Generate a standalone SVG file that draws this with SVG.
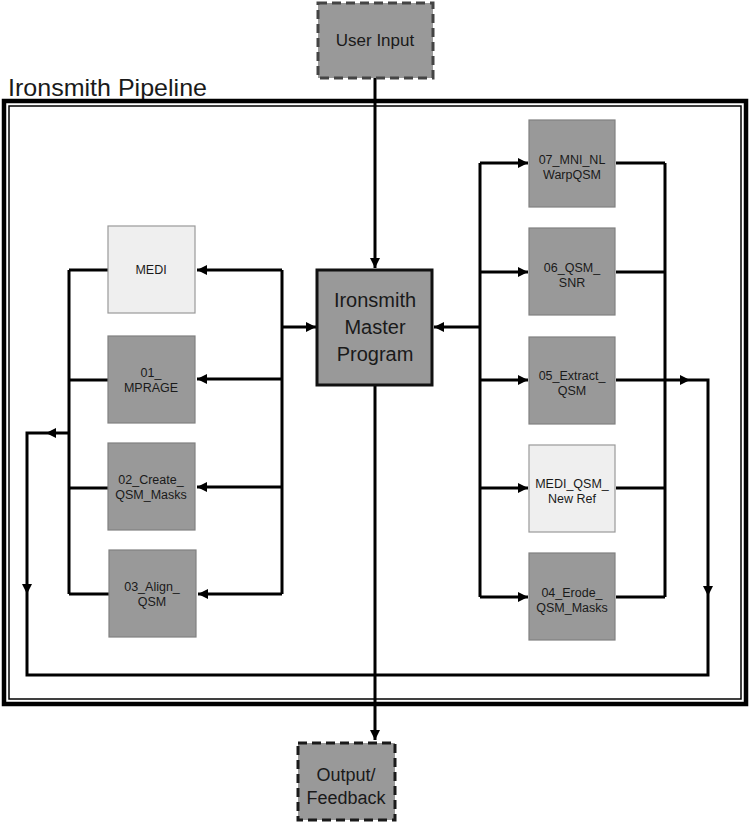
<svg xmlns="http://www.w3.org/2000/svg" width="750" height="825" viewBox="0 0 750 825">
<style>
.dark{fill:#999999;stroke:#808080;stroke-width:1.2}
.light{fill:#efefef;stroke:#999999;stroke-width:1.2}
.term{fill:#999999;stroke:#444444;stroke-width:3;stroke-dasharray:9 5}
.term2{fill:#999999;stroke:#1a1a1a;stroke-width:3;stroke-dasharray:9 5}
.master{fill:#999999;stroke:#111111;stroke-width:3}
.t{font-family:"Liberation Sans",Arial,sans-serif;fill:#1a1a1a;text-anchor:middle}
.s{font-size:12.5px}
.c{fill:none;stroke:#000;stroke-width:3}
.ah{fill:#000}
</style>
<defs>
<marker id="arr" markerUnits="userSpaceOnUse" markerWidth="11" markerHeight="11" refX="10" refY="5" orient="auto">
<path d="M0,0 L10,5 L0,10 z" fill="#000"/>
</marker>
</defs>
<rect width="750" height="825" fill="#fff"/>

<g id="frame">
<text class="t" x="8" y="96" style="text-anchor:start;font-size:24px" textLength="199" lengthAdjust="spacingAndGlyphs">Ironsmith Pipeline</text>
<rect x="4" y="101" width="742" height="603" fill="none" stroke="#000" stroke-width="4.5"/>
<rect x="9" y="106" width="732" height="593" fill="none" stroke="#000" stroke-width="1.5"/>
</g>

<g id="connectors">
<path class="c" d="M375,78 L375,268" marker-end="url(#arr)"/>
<path class="c" d="M375,386 L375,740" marker-end="url(#arr)"/>
<path class="c" d="M282,270 L282,594"/>
<path class="c" d="M282,270 L197,270" marker-end="url(#arr)"/>
<path class="c" d="M282,379 L197,379" marker-end="url(#arr)"/>
<path class="c" d="M282,487 L197,487" marker-end="url(#arr)"/>
<path class="c" d="M282,594 L198,594" marker-end="url(#arr)"/>
<path class="c" d="M282,327 L316,327" marker-end="url(#arr)"/>
<path class="c" d="M69,270 L69,594"/>
<path class="c" d="M69,270 L108,270"/>
<path class="c" d="M69,380 L108,380"/>
<path class="c" d="M69,488 L108,488"/>
<path class="c" d="M69,594 L109,594"/>
<path class="c" d="M480,163 L480,597"/>
<path class="c" d="M480,163 L528,163" marker-end="url(#arr)"/>
<path class="c" d="M480,272 L528,272" marker-end="url(#arr)"/>
<path class="c" d="M480,380 L528,380" marker-end="url(#arr)"/>
<path class="c" d="M480,488 L528,488" marker-end="url(#arr)"/>
<path class="c" d="M480,597 L528,597" marker-end="url(#arr)"/>
<path class="c" d="M480,327 L434,327" marker-end="url(#arr)"/>
<path class="c" d="M665,163 L665,597"/>
<path class="c" d="M616,163 L665,163"/>
<path class="c" d="M616,272 L665,272"/>
<path class="c" d="M616,488 L665,488"/>
<path class="c" d="M616,597 L665,597"/>
<path class="c" d="M616,380 L708,380 L708,675 L27,675 L27,433 L69,433"/>
<polygon class="ah" points="690,380 680,375 680,385"/>
<polygon class="ah" points="708,596 703,586 713,586"/>
<polygon class="ah" points="27,594 22,584 32,584"/>
<polygon class="ah" points="46,433 56,428 56,438"/>
</g>

<g id="user-input">
<rect class="term" x="318" y="3" width="115" height="75"/>
<text class="t" x="375" y="46" style="font-size:17px">User Input</text>
</g>

<g id="master">
<rect class="master" x="317" y="270" width="115" height="115"/>
<text class="t" x="375" y="307" style="font-size:20px">Ironsmith</text>
<text class="t" x="375" y="334" style="font-size:20px">Master</text>
<text class="t" x="375" y="361" style="font-size:20px">Program</text>
</g>

<g id="output">
<rect class="term2" x="298" y="743" width="97" height="77"/>
<text class="t" x="346" y="781" style="font-size:18px">Output/</text>
<text class="t" x="346" y="804" style="font-size:18px">Feedback</text>
</g>

<g id="medi">
<rect class="light" x="108" y="226" width="87" height="87"/>
<text class="t s" x="151" y="274">MEDI</text>
</g>
<g id="mprage">
<rect class="dark" x="108" y="336" width="87" height="87"/>
<text class="t s" x="151" y="377">01_</text>
<text class="t s" x="151" y="392">MPRAGE</text>
</g>
<g id="create-masks">
<rect class="dark" x="108" y="443" width="87" height="87"/>
<text class="t s" x="151" y="484">02_Create_</text>
<text class="t s" x="151" y="499">QSM_Masks</text>
</g>
<g id="align">
<rect class="dark" x="109" y="550" width="87" height="87"/>
<text class="t s" x="152" y="591">03_Align_</text>
<text class="t s" x="152" y="606">QSM</text>
</g>

<g id="mni">
<rect class="dark" x="529" y="120" width="86" height="87"/>
<text class="t s" x="572" y="164">07_MNI_NL</text>
<text class="t s" x="572" y="179">WarpQSM</text>
</g>
<g id="snr">
<rect class="dark" x="529" y="228" width="86" height="87"/>
<text class="t s" x="572" y="272">06_QSM_</text>
<text class="t s" x="572" y="287">SNR</text>
</g>
<g id="extract">
<rect class="dark" x="529" y="337" width="86" height="87"/>
<text class="t s" x="572" y="380">05_Extract_</text>
<text class="t s" x="572" y="395">QSM</text>
</g>
<g id="medi-newref">
<rect class="light" x="529" y="445" width="86" height="87"/>
<text class="t s" x="572" y="488">MEDI_QSM_</text>
<text class="t s" x="572" y="503">New Ref</text>
</g>
<g id="erode">
<rect class="dark" x="529" y="553" width="86" height="87"/>
<text class="t s" x="572" y="597">04_Erode_</text>
<text class="t s" x="572" y="612">QSM_Masks</text>
</g>
</svg>
